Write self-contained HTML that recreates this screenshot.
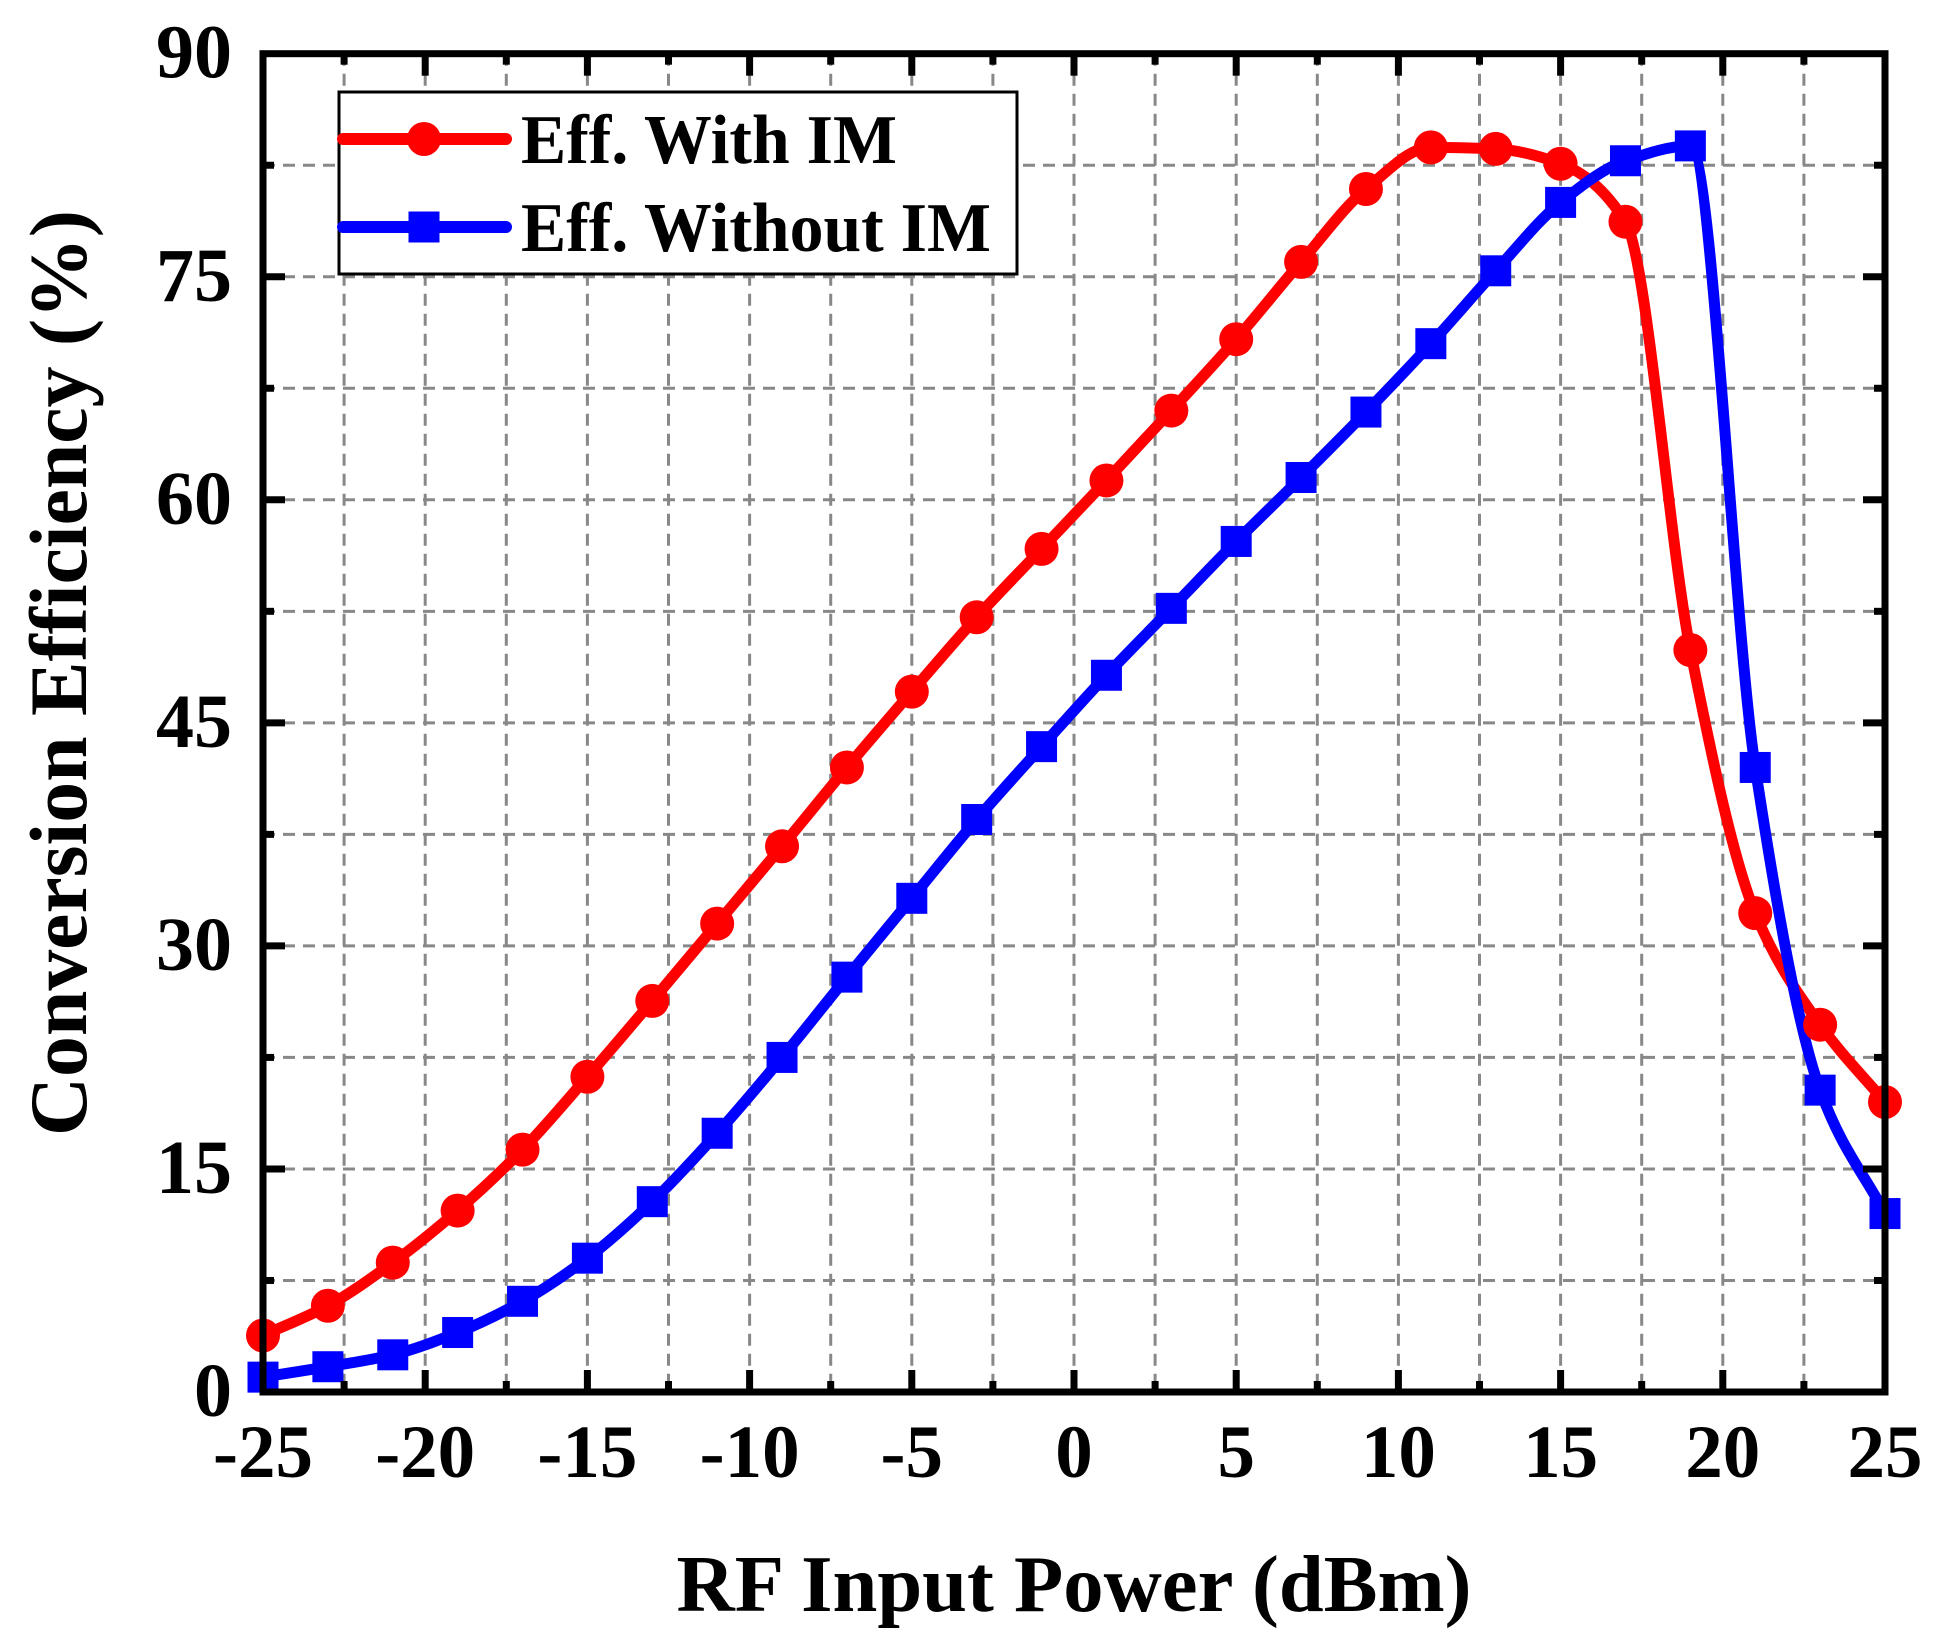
<!DOCTYPE html>
<html><head><meta charset="utf-8"><style>
html,body{margin:0;padding:0;background:#fff;}
svg{display:block;}
text{font-family:"Liberation Serif",serif;font-weight:bold;fill:#000;}
</style></head><body>
<svg id="s" width="1936" height="1647" xmlns="http://www.w3.org/2000/svg">
<g id="grid"></g>
<g id="series"></g>
<g id="axes"></g>
<rect x="339" y="92" width="678" height="182" fill="#fff" stroke="#000" stroke-width="3"/>
<line x1="343" y1="139" x2="506" y2="139" stroke="#ff0000" stroke-width="12" stroke-linecap="round"/>
<circle cx="424" cy="139" r="17" fill="#ff0000"/>
<line x1="343" y1="227" x2="506" y2="227" stroke="#0000ff" stroke-width="12" stroke-linecap="round"/>
<rect x="408.5" y="211.5" width="31" height="31" fill="#0000ff"/>
<text x="521" y="163" font-size="70" textLength="376" lengthAdjust="spacingAndGlyphs">Eff. With IM</text>
<text x="521" y="251" font-size="70" textLength="470" lengthAdjust="spacingAndGlyphs">Eff. Without IM</text>
<text x="1074" y="1611" font-size="80" text-anchor="middle" textLength="795" lengthAdjust="spacingAndGlyphs">RF Input Power (dBm)</text>
<text transform="translate(86,673) rotate(-90)" x="0" y="0" font-size="82" text-anchor="middle" textLength="926" lengthAdjust="spacingAndGlyphs">Conversion Efficiency (%)</text>
</svg>
<script>
var NS="http://www.w3.org/2000/svg";
function X(v){return 263+(v+25)*32.44;}
function Y(v){return 1392-v*14.87;}
function el(p,t,a){var e=document.createElementNS(NS,t);for(var k in a)e.setAttribute(k,a[k]);p.appendChild(e);return e;}
var grid=document.getElementById('grid'),axes=document.getElementById('axes'),ser=document.getElementById('series');
for(var v=-22.5;v<25;v+=2.5){el(grid,'line',{x1:X(v),x2:X(v),y1:Y(90),y2:Y(0),stroke:'#888',"stroke-width":3,"stroke-dasharray":"12 8"});}
for(var v=7.5;v<90;v+=7.5){el(grid,'line',{x1:X(-25),x2:X(25),y1:Y(v),y2:Y(v),stroke:'#888',"stroke-width":3,"stroke-dasharray":"12 8"});}
el(axes,'rect',{x:X(-25),y:Y(90),width:X(25)-X(-25),height:Y(0)-Y(90),fill:'none',stroke:'#000',"stroke-width":7});
for(var v=-22.5;v<25;v+=2.5){var maj=Math.abs(v%5)<0.01;var L=maj?22:11;
 el(axes,'line',{x1:X(v),x2:X(v),y1:Y(0),y2:Y(0)-L,stroke:'#000',"stroke-width":7});
 el(axes,'line',{x1:X(v),x2:X(v),y1:Y(90),y2:Y(90)+L,stroke:'#000',"stroke-width":7});}
for(var v=7.5;v<90;v+=7.5){var maj=Math.abs(v%15)<0.01;var L=maj?22:11;
 el(axes,'line',{y1:Y(v),y2:Y(v),x1:X(-25),x2:X(-25)+L,stroke:'#000',"stroke-width":7});
 el(axes,'line',{y1:Y(v),y2:Y(v),x1:X(25),x2:X(25)-L,stroke:'#000',"stroke-width":7});}
for(var v=-25;v<=25;v+=5){var t=el(axes,'text',{x:X(v),y:1477,"font-size":75,"text-anchor":"middle"});t.textContent=v;}
for(var v=0;v<=90;v+=15){var t=el(axes,'text',{x:232,y:Y(v)+24,"font-size":76,"text-anchor":"end"});t.textContent=v;}
var xs=[];for(var v=-25;v<=25;v+=2)xs.push(v);
var red=[3.8,5.8,8.7,12.2,16.3,21.2,26.3,31.5,36.7,42,47.1,52.1,56.7,61.3,66,70.8,76,80.9,83.7,83.6,82.6,78.7,49.9,32.2,24.7,19.5];
var blue=[1,1.7,2.5,4,6.1,9,12.8,17.4,22.5,27.9,33.2,38.5,43.4,48.2,52.7,57.2,61.5,65.9,70.5,75.4,80,82.8,83.8,42,20.3,12];
function path(ys){var P=xs.map(function(x,i){return [X(x),Y(ys[i])];});
 var n=P.length,d=[],m=[];
 for(var i=0;i<n-1;i++)d.push((P[i+1][1]-P[i][1])/(P[i+1][0]-P[i][0]));
 m[0]=d[0];m[n-1]=d[n-2];
 for(var i=1;i<n-1;i++){ if(d[i-1]*d[i]<=0)m[i]=0; else m[i]=2/(1/d[i-1]+1/d[i]); }
 var s="M"+P[0][0]+","+P[0][1];
 for(var i=0;i<n-1;i++){var h=(P[i+1][0]-P[i][0])/3;
  s+=" C"+(P[i][0]+h)+","+(P[i][1]+m[i]*h)+" "+(P[i+1][0]-h)+","+(P[i+1][1]-m[i+1]*h)+" "+P[i+1][0]+","+P[i+1][1];}
 return {d:s,P:P};}
var r=path(red),b=path(blue);
el(ser,'path',{d:r.d,fill:'none',stroke:'#ff0000',"stroke-width":11,"stroke-linejoin":"round"});
el(ser,'path',{d:b.d,fill:'none',stroke:'#0000ff',"stroke-width":11,"stroke-linejoin":"round"});
r.P.forEach(function(p){el(ser,'circle',{cx:p[0],cy:p[1],r:17,fill:'#ff0000'});});
b.P.forEach(function(p){el(ser,'rect',{x:p[0]-15.5,y:p[1]-15.5,width:31,height:31,fill:'#0000ff'});});
</script>
</body></html>
